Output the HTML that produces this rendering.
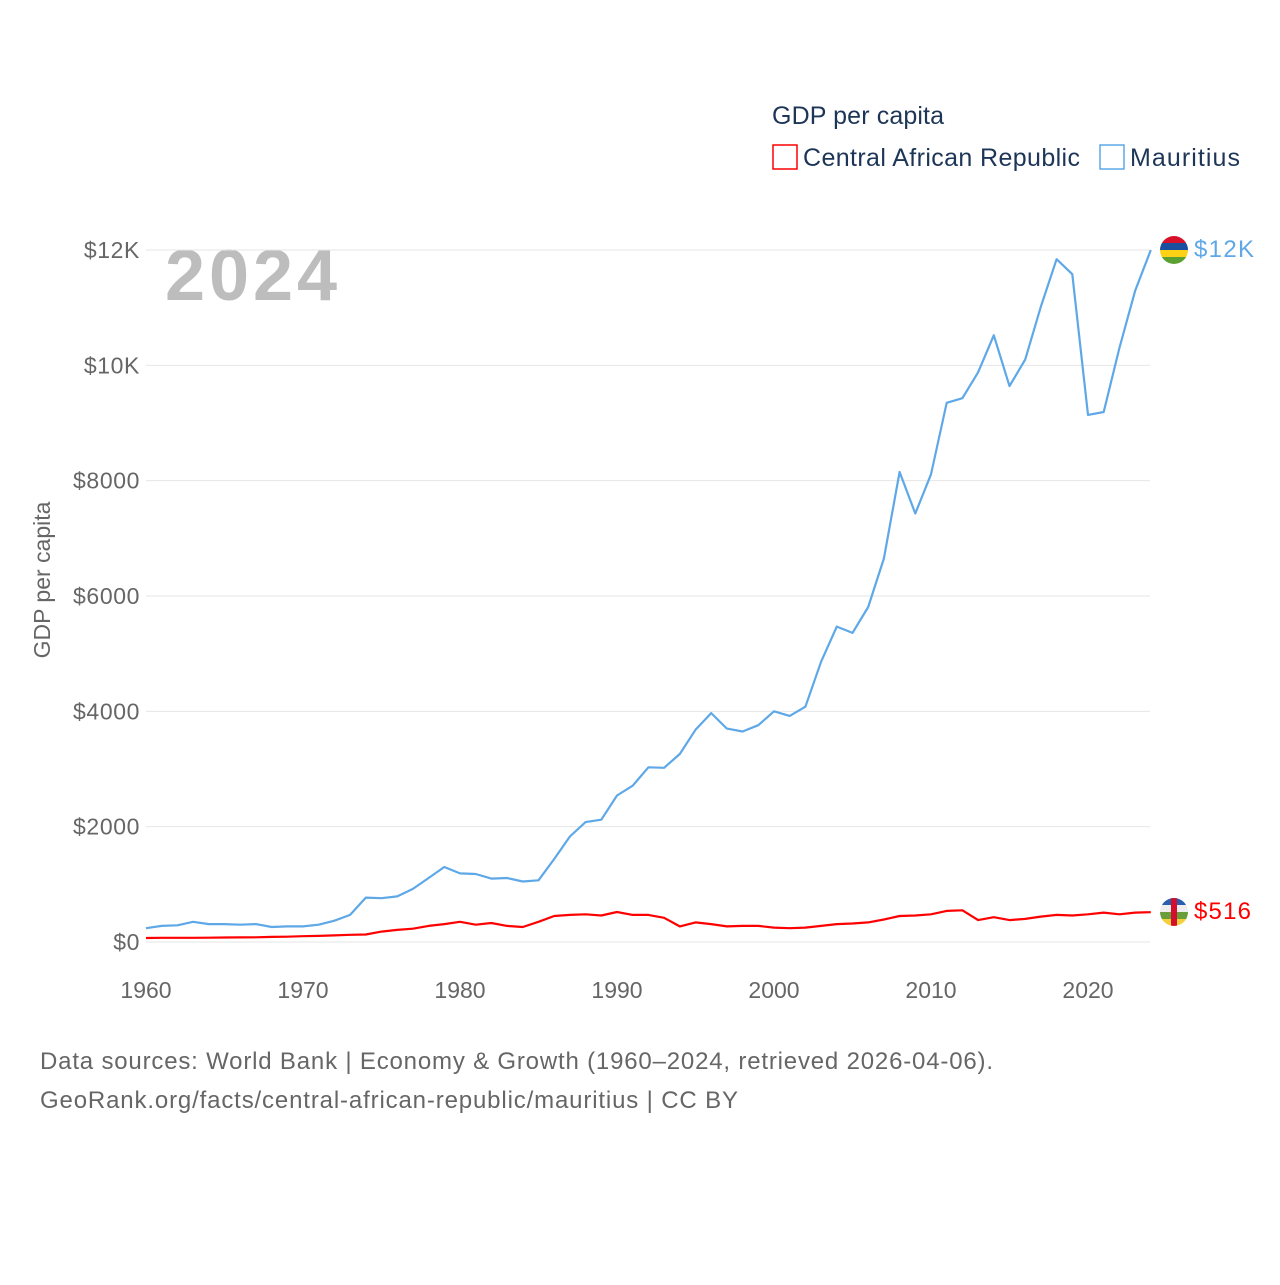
<!DOCTYPE html>
<html><head><meta charset="utf-8"><style>
body{margin:0;background:#fff;}
svg text{font-family:"Liberation Sans",sans-serif;}
</style></head><body>
<svg id="chart" width="1280" height="1280" xmlns="http://www.w3.org/2000/svg">
<defs>
<clipPath id="c1"><circle cx="1174" cy="250" r="14"/></clipPath>
<clipPath id="c2"><circle cx="1174" cy="912" r="14"/></clipPath>
</defs>
<text x="772" y="124" font-size="25" fill="#1d3557" textLength="172">GDP per capita</text>
<g><rect x="773" y="145" width="24" height="24" fill="none" stroke="#ff0000" stroke-width="1.5"/><text x="803" y="166" font-size="25" fill="#1d3557" textLength="277">Central African Republic</text></g>
<g><rect x="1100" y="145" width="24" height="24" fill="none" stroke="#5ea8e8" stroke-width="1.5"/><text x="1130" y="166" font-size="25" fill="#1d3557" textLength="110">Mauritius</text></g>
<text x="165" y="300" font-size="72" font-weight="bold" fill="#bdbdbd" textLength="172">2024</text>
<text transform="translate(50,580) rotate(-90)" text-anchor="middle" font-size="23" fill="#666">GDP per capita</text>
<g id="grid"></g><g id="xt"></g><g id="lines"></g>
<text x="40" y="1069" font-size="24" fill="#666" textLength="953">Data sources: World Bank | Economy &amp; Growth (1960–2024, retrieved 2026-04-06).</text>
<text x="40" y="1108" font-size="24" fill="#666" textLength="698">GeoRank.org/facts/central-african-republic/mauritius | CC BY</text>
<g clip-path="url(#c1)">
<rect x="1160" y="236" width="28" height="7" fill="#d8112a"/><rect x="1160" y="243" width="28" height="7" fill="#1a4fa0"/><rect x="1160" y="250" width="28" height="7" fill="#fdd116"/><rect x="1160" y="257" width="28" height="7" fill="#5aa131"/></g>
<text x="1194" y="257" font-size="24" fill="#5ea8e8" textLength="60">$12K</text>
<g clip-path="url(#c2)">
<rect x="1160" y="898" width="28" height="7" fill="#2a5fb0"/><rect x="1160" y="905" width="28" height="7" fill="#eee"/><rect x="1160" y="912" width="28" height="7" fill="#6a9e3a"/><rect x="1160" y="919" width="28" height="7" fill="#f5d03a"/><rect x="1171" y="898" width="6" height="28" fill="#d2102e"/></g>
<text x="1194" y="919" font-size="24" fill="#ff0000" textLength="57">$516</text>
</svg>
<script>
const years=[];for(let y=1960;y<=2024;y++)years.push(y);
const mauritius=[240,280,290,350,310,310,300,310,260,270,270,300,370,470,770,760,790,920,1110,1300,1190,1180,1100,1110,1050,1070,1440,1830,2080,2120,2540,2710,3030,3020,3260,3680,3970,3700,3650,3760,4000,3920,4080,4860,5470,5360,5810,6650,8150,7430,8110,9350,9430,9880,10520,9640,10100,11020,11840,11580,9140,9190,10300,11290,12000];
const car=[70,72,72,72,75,78,80,82,88,92,100,105,115,125,130,180,210,230,280,310,350,300,330,280,260,350,450,470,480,460,520,470,470,420,270,340,310,270,280,280,250,240,250,280,310,320,340,390,450,460,480,540,550,380,430,380,400,440,470,460,480,510,480,510,516];
const yTicks=[0,2000,4000,6000,8000,10000,12000];
const yTickLabels=["$0","$2000","$4000","$6000","$8000","$10K","$12K"];
const xTicks=[1960,1970,1980,1990,2000,2010,2020];
const NS="http://www.w3.org/2000/svg";
const X=v=>146+(v-1960)*(1088-146)/60;
const Y=v=>942-v*(942-250)/12000;
function mk(t,a,p){const e=document.createElementNS(NS,t);for(const k in a)e.setAttribute(k,a[k]);p.appendChild(e);return e;}
const g=document.getElementById('grid');
yTicks.forEach((v,i)=>{
 const l=mk('line',{x1:146,x2:1150,y1:Y(v),y2:Y(v),stroke:'#e6e6e6','stroke-width':1},g);
 
 
 const t=mk('text',{x:140,y:Y(v)+8,'text-anchor':'end','font-size':23,fill:'#666','letter-spacing':'0.6'},g);
 t.textContent=yTickLabels[i];
 
 
});
const xt=document.getElementById('xt');
xTicks.forEach(v=>{
 const t=mk('text',{x:X(v),y:998,'text-anchor':'middle','font-size':23,fill:'#666'},xt);
 t.textContent=v;
 
 
});
const lg=document.getElementById('lines');
function line(vals,col,name){
 const d=vals.map((v,i)=>(i?'L':'M')+X(years[i]).toFixed(1)+','+Y(v).toFixed(1)).join('');
 const p=mk('path',{d:d,fill:'none',stroke:col,'stroke-width':2.2,'stroke-linejoin':'round'},lg);
 
 
}
line(mauritius,'#5ea8e8','mauritius-line');
line(car,'#ff0000','car-line');
</script>
</body></html>
